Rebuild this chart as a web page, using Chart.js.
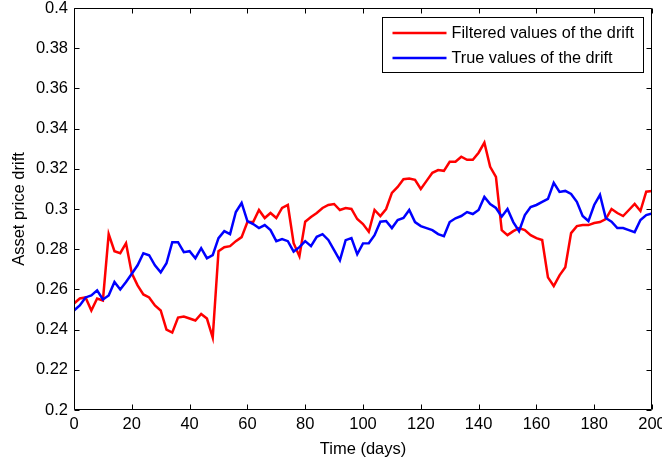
<!DOCTYPE html>
<html>
<head>
<meta charset="utf-8">
<title>Asset price drift</title>
<script src="https://cdn.jsdelivr.net/npm/chart.js@4.4.1/dist/chart.umd.min.js"></script>
<style>
	body { margin : 0; background : #fff; overflow : hidden; }
	canvas { display : block; }
</style>
</head>
<body>
<canvas id="drift-chartcanvas" width="662" height="464"></canvas>
<script>

// one value every two days, day 0 to day 200
var days = [];
for (var d = 0; d <= 200; d += 2) {
	days.push(d);
}

var filteredDrift = [
	0.253, 0.2555, 0.256, 0.2495, 0.2555, 0.2545, 0.2875, 0.279, 0.278, 0.283,
	0.268, 0.262, 0.2575, 0.256, 0.252, 0.2495, 0.240, 0.2385, 0.246, 0.2465,
	0.2455, 0.2445, 0.2478, 0.2455, 0.236, 0.279, 0.281, 0.2815, 0.284, 0.286,
	0.2935, 0.2935, 0.2995, 0.2955, 0.298, 0.2955, 0.3005, 0.302, 0.283, 0.2765,
	0.2937, 0.296, 0.298, 0.3005, 0.302, 0.3025, 0.2995, 0.3005, 0.300, 0.295,
	0.2925, 0.2887, 0.2995, 0.2965, 0.300, 0.308, 0.311, 0.3148, 0.3152, 0.3145,
	0.310, 0.314, 0.318, 0.3194, 0.319, 0.3235, 0.3235, 0.326, 0.3245, 0.3245,
	0.328, 0.333, 0.321, 0.316, 0.2895, 0.287, 0.289, 0.2905, 0.2895, 0.287,
	0.2855, 0.2846, 0.266, 0.2617, 0.267, 0.271, 0.288, 0.2915, 0.292, 0.292,
	0.293, 0.2935, 0.295, 0.300, 0.298, 0.2965, 0.2995, 0.3025, 0.299, 0.3086,
	0.309
];

var trueDrift = [
	0.2495, 0.252, 0.256, 0.257, 0.2595, 0.255, 0.257, 0.2637, 0.260, 0.2637,
	0.2678, 0.272, 0.278, 0.277, 0.272, 0.2685, 0.273, 0.2835, 0.2835, 0.2785,
	0.279, 0.2755, 0.2805, 0.2755, 0.277, 0.2855, 0.289, 0.2875, 0.2985, 0.303,
	0.294, 0.2925, 0.2905, 0.292, 0.2895, 0.284, 0.285, 0.284, 0.2788, 0.281,
	0.284, 0.2815, 0.2862, 0.2875, 0.2846, 0.2795, 0.2745, 0.2845, 0.2855, 0.2775,
	0.2829, 0.283, 0.287, 0.2937, 0.294, 0.2905, 0.2945, 0.2955, 0.2995, 0.2935,
	0.2915, 0.2905, 0.2895, 0.2875, 0.2865, 0.2935, 0.2954, 0.2965, 0.2985, 0.2975,
	0.2995, 0.306, 0.3025, 0.3005, 0.2962, 0.300, 0.2935, 0.289, 0.297, 0.301,
	0.302, 0.3035, 0.305, 0.313, 0.3085, 0.309, 0.3075, 0.3036, 0.2965, 0.294,
	0.302, 0.307, 0.2955, 0.2937, 0.2905, 0.2905, 0.2895, 0.2885, 0.2945, 0.297,
	0.2978
];

var xTicks = [0, 20, 40, 60, 80, 100, 120, 140, 160, 180, 200];
var yTicks = [0.2, 0.22, 0.24, 0.26, 0.28, 0.3, 0.32, 0.34, 0.36, 0.38, 0.4];

var FONT = "'Liberation Sans', Arial, Helvetica, sans-serif";
var FONT_SIZE = 16.5;
var TEXT_COLOR = "#000";

function toPoints(values) {
	var pts = [];
	for (var i = 0; i < values.length; i++) {
		pts.push({ x : days[i], y : values[i] });
	}
	return pts;
}

/**
 * box round the plot, ticks pointing inwards on all four sides,
 * and the boxed legend in the upper right corner
 */
var axesBox = {
	id : "axesBox",
	afterDraw : function(chart) {
		var ctx = chart.ctx;
		var a = chart.chartArea;
		var sx = chart.scales.x;
		var sy = chart.scales.y;
		var L = Math.round(a.left) + 0.5;
		var R = Math.round(a.right) - 0.5;
		var T = Math.round(a.top) + 0.5;
		var B = Math.round(a.bottom) - 0.5;
		var tick = 5;

		ctx.save();
		ctx.strokeStyle = "#000";
		ctx.lineWidth = 1;
		ctx.beginPath();
		ctx.rect(L, T, R - L, B - T);

		xTicks.forEach(function(v) {
			var px = Math.round(sx.getPixelForValue(v)) + 0.5;
			ctx.moveTo(px, B);
			ctx.lineTo(px, B - tick);
			ctx.moveTo(px, T);
			ctx.lineTo(px, T + tick);
		});
		yTicks.forEach(function(v) {
			var py = Math.round(sy.getPixelForValue(v)) + 0.5;
			ctx.moveTo(L, py);
			ctx.lineTo(L + tick, py);
			ctx.moveTo(R, py);
			ctx.lineTo(R - tick, py);
		});
		ctx.stroke();

		// legend
		var sets = chart.data.datasets;
		ctx.font = "16.25px " + FONT;
		var textW = 0;
		sets.forEach(function(ds) {
			textW = Math.max(textW, ctx.measureText(ds.label).width);
		});
		var lineLen = 54;
		var boxW = Math.round(10 + lineLen + 5 + textW + 10);
		var boxH = 55;
		var bx = Math.round(a.right) - 9 - boxW + 0.5;
		var by = Math.round(a.top) + 9 + 0.5;

		ctx.fillStyle = "#fff";
		ctx.fillRect(bx, by, boxW, boxH);
		ctx.strokeStyle = "#000";
		ctx.strokeRect(bx, by, boxW, boxH);

		ctx.textBaseline = "middle";
		ctx.textAlign = "left";
		sets.forEach(function(ds, i) {
			var ly = Math.round(by + 15 + i * 25);
			ctx.strokeStyle = ds.borderColor;
			ctx.lineWidth = 2.5;
			ctx.beginPath();
			ctx.moveTo(bx + 10, ly);
			ctx.lineTo(bx + 10 + lineLen, ly);
			ctx.stroke();
			ctx.fillStyle = TEXT_COLOR;
			ctx.fillText(ds.label, bx + 10 + lineLen + 5, ly + 1);
		});
		ctx.restore();
	}
};

var ctx = document.getElementById("drift-chartcanvas");

var data = {
	datasets : [
		{
			label : "Filtered values of the drift",
			data : toPoints(filteredDrift),
			borderColor : "#ff0000",
			backgroundColor : "#ff0000",
			borderWidth : 2.5,
			fill : false,
			tension : 0,
			pointRadius : 0,
			order : 1
		},
		{
			label : "True values of the drift",
			data : toPoints(trueDrift),
			borderColor : "#0000ff",
			backgroundColor : "#0000ff",
			borderWidth : 2.5,
			fill : false,
			tension : 0,
			pointRadius : 0,
			order : 0
		}
	]
};

var options = {
	responsive : false,
	animation : false,
	layout : {
		padding : { left : 0, top : 8, right : 10, bottom : 0 }
	},
	plugins : {
		legend : { display : false },
		tooltip : { enabled : false }
	},
	scales : {
		x : {
			type : "linear",
			min : 0,
			max : 200,
			afterFit : function(scale) {
				// let the end labels overhang instead of shrinking the plot
				scale.height = 54;
				scale.paddingLeft = 0;
				scale.paddingRight = 0;
			},
			afterBuildTicks : function(scale) {
				scale.ticks = xTicks.map(function(v) { return { value : v }; });
			},
			grid : { display : false, drawTicks : false },
			border : { display : false },
			ticks : {
				autoSkip : false,
				maxRotation : 0,
				padding : 5,
				color : TEXT_COLOR,
				font : { family : FONT, size : FONT_SIZE },
				callback : function(v) { return String(v); }
			},
			title : {
				display : true,
				text : "Time (days)",
				color : TEXT_COLOR,
				font : { family : FONT, size : FONT_SIZE },
				padding : { top : 0, bottom : 5 }
			}
		},
		y : {
			type : "linear",
			min : 0.2,
			max : 0.4,
			afterFit : function(scale) {
				scale.width = 74;
				scale.paddingTop = 0;
				scale.paddingBottom = 0;
			},
			afterBuildTicks : function(scale) {
				scale.ticks = yTicks.map(function(v) { return { value : v }; });
			},
			grid : { display : false, drawTicks : false },
			border : { display : false },
			ticks : {
				autoSkip : false,
				padding : 6,
				color : TEXT_COLOR,
				font : { family : FONT, size : FONT_SIZE },
				callback : function(v) { return String(Number(v.toFixed(2))); }
			},
			title : {
				display : true,
				text : "Asset price drift",
				color : TEXT_COLOR,
				font : { family : FONT, size : FONT_SIZE },
				padding : { top : 10, bottom : 0 }
			}
		}
	}
};

var chart = new Chart(ctx, {
	type : "line",
	data : data,
	options : options,
	plugins : [axesBox]
});

</script>
</body>
</html>
